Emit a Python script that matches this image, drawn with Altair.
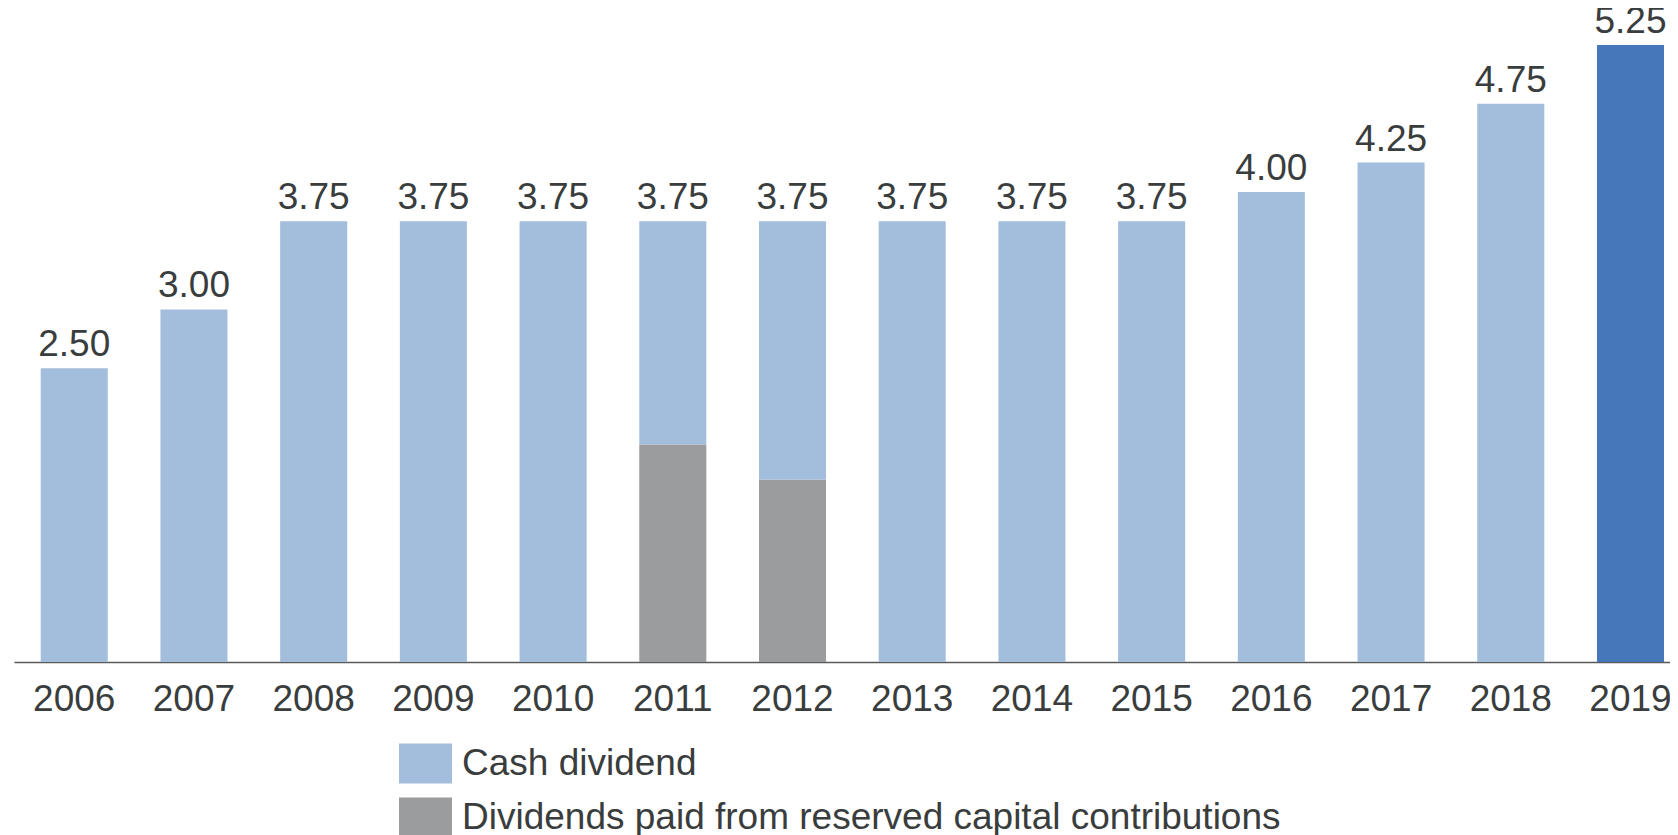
import altair as alt
import pandas as pd

years = ["2006", "2007", "2008", "2009", "2010", "2011", "2012",
         "2013", "2014", "2015", "2016", "2017", "2018", "2019"]
totals = [2.50, 3.00, 3.75, 3.75, 3.75, 3.75, 3.75,
          3.75, 3.75, 3.75, 4.00, 4.25, 4.75, 5.25]
reserve = [0, 0, 0, 0, 0, 1.85, 1.55, 0, 0, 0, 0, 0, 0, 0]
series_names = ["Cash dividend", "Dividends paid from reserved capital contributions"]

rows = []
for y, t, r in zip(years, totals, reserve):
    rows.append({"year": y, "series": series_names[1], "value": r, "ord": 0})
    rows.append({"year": y, "series": series_names[0], "value": t - r, "ord": 1})
df = pd.DataFrame(rows)
tot_df = pd.DataFrame({"year": years, "total": totals})

FONT = "Liberation Sans"
TXT = "#3a3d3d"

xscale = alt.Scale(paddingInner=0.44, paddingOuter=0.1366, align=0.817)
yscale = alt.Scale(domain=[0, 5.523], nice=False, zero=True)

bars = alt.Chart(df).mark_bar().encode(
    x=alt.X("year:N", sort=years, scale=xscale,
            axis=alt.Axis(title=None, labelAngle=0, ticks=False, tickSize=0,
                          labelPadding=19, labelFontSize=37, labelFont=FONT,
                          labelColor=TXT, domainColor="#5a5a5a", domainWidth=1.5,
                          grid=False)),
    y=alt.Y("value:Q", scale=yscale, stack="zero", axis=None),
    color=alt.condition(
        (alt.datum.year == "2019") & (alt.datum.series == series_names[0]),
        alt.value("#4677BB"),
        alt.Color("series:N",
                  scale=alt.Scale(domain=series_names, range=["#A3BDDD", "#9B9C9E"]),
                  legend=alt.Legend(title=None, orient="none", legendX=385, legendY=724,
                                    symbolType="M-1,-0.755H1V0.755H-1Z", symbolSize=2809,
                                    symbolStrokeWidth=0, symbolOpacity=1,
                                    labelFontSize=37, labelFont=FONT, labelColor=TXT,
                                    labelOffset=10, rowPadding=7, padding=0,
                                    labelLimit=1000)),
    ),
    order=alt.Order("ord:Q"),
)

labels = alt.Chart(tot_df).mark_text(
    baseline="alphabetic", dy=-12, fontSize=37, font=FONT, color=TXT
).encode(
    x=alt.X("year:N", sort=years, scale=xscale),
    y=alt.Y("total:Q", scale=yscale),
    text=alt.Text("total:Q", format=".2f"),
)

chart = alt.layer(bars, labels).properties(
    width=1656, height=649,
    autosize=alt.AutoSizeParams(type="none"),
    padding={"left": 6, "top": 5, "right": 0, "bottom": 173},
    background="white",
).configure_view(stroke=None, strokeWidth=0)

chart.save("out.html", embed_options={"renderer": "svg", "actions": False})
